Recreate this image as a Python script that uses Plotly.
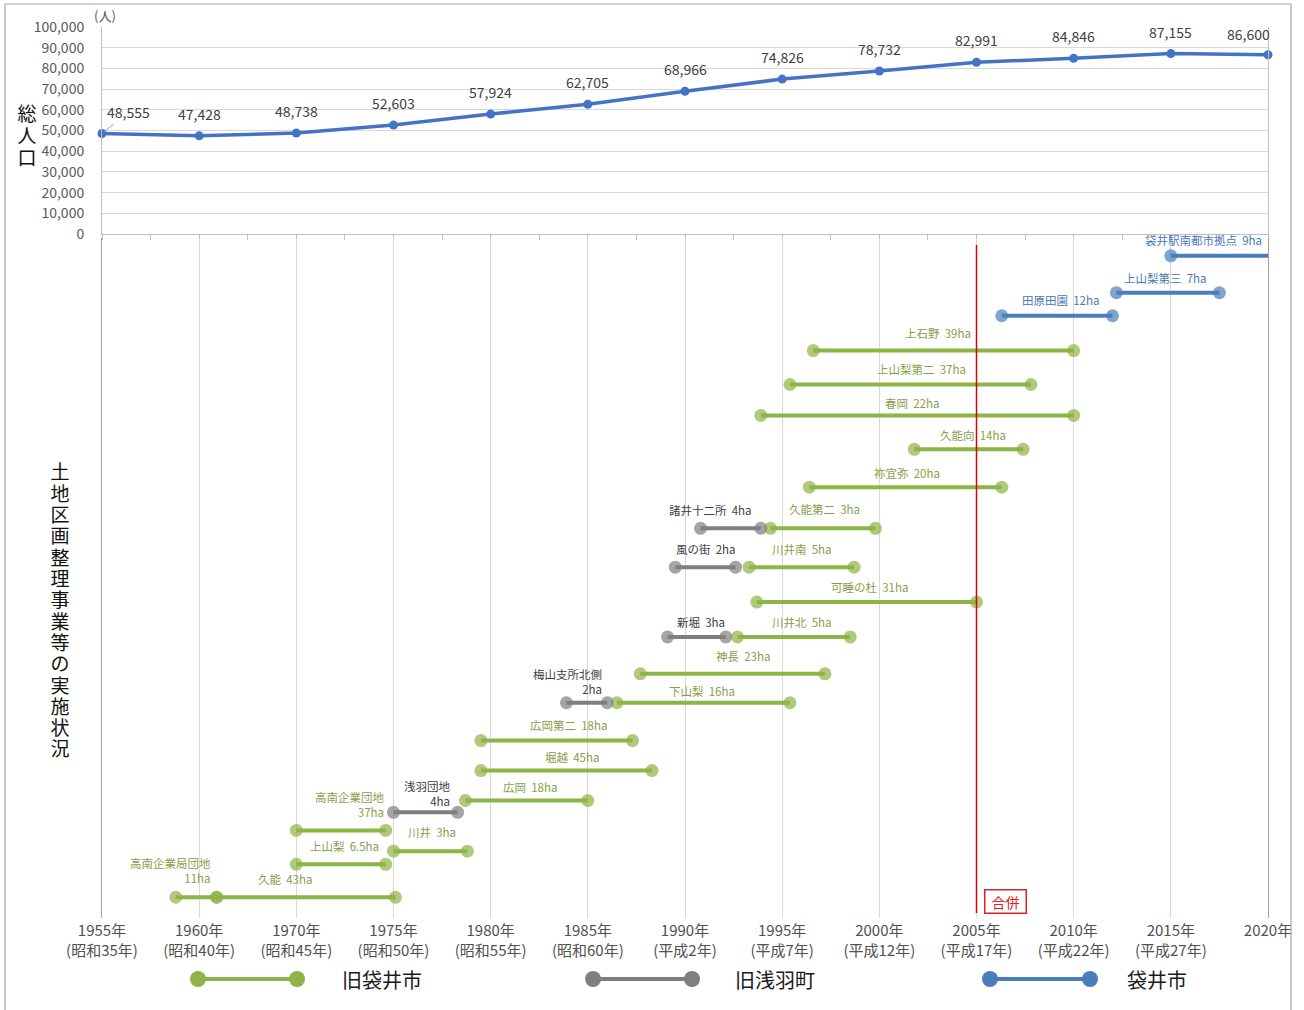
import plotly.graph_objects as go

# ---- Population (census years) ----
pop_years = [1960, 1965, 1970, 1975, 1980, 1985, 1990, 1995, 2000, 2005, 2010, 2015, 2020]
population = [48555, 47428, 48738, 52603, 57924, 62705, 68966, 74826, 78732, 82991, 84846, 87155, 86600]

# x-axis tick labels shown under the project chart
tick_years = pop_years
tick_text = [
    "1955年<br>(昭和35年)", "1960年<br>(昭和40年)", "1970年<br>(昭和45年)", "1975年<br>(昭和50年)",
    "1980年<br>(昭和55年)", "1985年<br>(昭和60年)", "1990年<br>(平成2年)", "1995年<br>(平成7年)",
    "2000年<br>(平成12年)", "2005年<br>(平成17年)", "2010年<br>(平成22年)", "2015年<br>(平成27年)",
    "2020年",
]

# ---- Land readjustment projects ----
proj_name = [
    "袋井駅南都市拠点", "上山梨第三", "田原田園", "上石野", "上山梨第二", "春岡", "久能向", "祢宜弥",
    "諸井十二所", "久能第二", "風の街", "川井南", "可睡の杜", "新堀", "川井北", "神長",
    "梅山支所北側", "下山梨", "広岡第二", "堀越", "広岡", "浅羽団地", "高南企業団地", "川井",
    "上山梨", "高南企業局団地", "久能",
]
proj_area = [
    "9ha", "7ha", "12ha", "39ha", "37ha", "22ha", "14ha", "20ha",
    "4ha", "3ha", "2ha", "5ha", "31ha", "3ha", "5ha", "23ha",
    "2ha", "16ha", "18ha", "45ha", "18ha", "4ha", "37ha", "3ha",
    "6.5ha", "11ha", "43ha",
]
# city: 0 = 旧袋井市, 1 = 旧浅羽町, 2 = 袋井市
proj_city = [2, 2, 2, 0, 0, 0, 0, 0,
             1, 0, 1, 0, 0, 1, 0, 0,
             1, 0, 0, 0, 0, 1, 0, 0,
             0, 0, 0]
proj_start = [2015.0, 2012.2, 2006.3, 1996.6, 1995.4, 1993.9, 2001.8, 1996.4,
              1990.8, 1994.4, 1989.5, 1993.3, 1993.7, 1989.1, 1992.7, 1987.7,
              1983.9, 1986.5, 1979.5, 1979.5, 1978.7, 1975.0, 1970.0, 1975.0,
              1970.0, 1963.8, 1965.9]
proj_end = [2020.0, 2017.5, 2012.0, 2010.0, 2007.8, 2010.0, 2007.4, 2006.3,
            1993.9, 1999.8, 1992.6, 1998.7, 2005.0, 1992.1, 1998.5, 1997.2,
            1986.0, 1995.4, 1987.3, 1988.3, 1985.0, 1978.3, 1974.6, 1978.8,
            1974.6, 1965.9, 1975.1]
proj_ongoing = [True] + [False] * 26

# ---- placement of the project rows and their labels (layout only) ----
row_lane = [0.33, 1.45, 2.15, 3.21, 4.24, 5.18, 6.21, 7.36,
            8.61, 8.61, 9.79, 9.79, 10.85, 11.91, 11.91, 13.03,
            13.91, 13.91, 15.06, 15.97, 16.88, 17.24, 17.79, 18.42,
            18.82, 19.82, 19.82]
label_x = [2016.7, 2014.7, 2009.3, 2003.0, 2002.15, 2001.7, 2004.8, 2001.4,
           1991.3, 1997.2, 1991.1, 1996.0, 1999.5, 1990.8, 1996.0, 1993.0,
           1985.85, 1990.9, 1984.0, 1984.2, 1982.0, 1978.05, 1974.6, 1977.0,
           1972.5, 1965.7, 1969.4]
label_lane = [-0.15, 1.0, 1.67, 2.67, 3.76, 4.79, 5.76, 6.94,
              8.06, 8.03, 9.24, 9.24, 10.39, 11.45, 11.45, 12.48,
              13.27, 13.55, 14.58, 15.55, 16.48, 16.67, 17.0, 17.85,
              18.27, 19.0, 19.27]
label_two_line = {16, 21, 22, 25}

city_names = ["旧袋井市", "旧浅羽町", "袋井市"]
city_line = ["#8db444", "#7f7f7f", "#4a7ebb"]
city_text = ["#86a04a", "#404040", "#4a78b8"]

FONT = "Noto Sans CJK JP"
W, H = 1304, 1010


def py(p):
    """pixel row -> paper y"""
    return 1 - p / H


fig = go.Figure()

# population line
fig.add_trace(go.Scatter(
    x=pop_years, y=population, mode="lines+markers",
    line=dict(color="#4472c4", width=3.5),
    marker=dict(color="#4472c4", size=9, line=dict(width=0)),
    cliponaxis=False, showlegend=False, hoverinfo="x+y",
    xaxis="x", yaxis="y",
))

# project segments, one trace per city
for c in range(3):
    xs, ys, sizes = [], [], []
    for i in range(len(proj_name)):
        if proj_city[i] != c:
            continue
        xs += [proj_start[i], proj_end[i], None]
        ys += [row_lane[i], row_lane[i], None]
        sizes += [13, 0 if proj_ongoing[i] else 13, 0]
    fig.add_trace(go.Scatter(
        x=xs, y=ys, mode="lines+markers",
        line=dict(color=city_line[c], width=4),
        marker=dict(color=city_line[c], size=sizes, line=dict(width=0)),
        cliponaxis=False, showlegend=False, connectgaps=False,
        xaxis="x2", yaxis="y2",
    ))

# legend keys drawn on their own small axis
legend_x0 = [0.1518, 0.4548, 0.7592]
legend_x1 = [0.2278, 0.5307, 0.8359]
legend_lbl = [0.2607, 0.5621, 0.8627]
for c in range(3):
    fig.add_trace(go.Scatter(
        x=[legend_x0[c], legend_x1[c]], y=[0.5, 0.5], mode="lines+markers",
        line=dict(color=city_line[c], width=4),
        marker=dict(color=city_line[c], size=16, line=dict(width=0)),
        cliponaxis=False, showlegend=False, hoverinfo="skip",
        xaxis="x3", yaxis="y3",
    ))

annotations = []

# population value labels
for i, (xv, yv) in enumerate(zip(pop_years, population)):
    txt = f"{yv:,}"
    if i == 0:
        annotations.append(dict(x=xv, y=yv, xref="x", yref="y", text=txt, showarrow=True,
                                 ax=26, ay=-21, arrowhead=0, arrowwidth=1, arrowcolor="#a6a6a6",
                                 standoff=2, font=dict(family=FONT, size=14, color="#404040")))
    elif i == len(pop_years) - 1:
        annotations.append(dict(x=xv, y=yv, xref="x", yref="y", text=txt, showarrow=False,
                                 xanchor="right", xshift=4, yshift=21,
                                 font=dict(family=FONT, size=14, color="#404040")))
    else:
        annotations.append(dict(x=xv, y=yv, xref="x", yref="y", text=txt, showarrow=False,
                                 yshift=22, font=dict(family=FONT, size=14, color="#404040")))

# project labels
for i in range(len(proj_name)):
    c = proj_city[i]
    if i in label_two_line:
        annotations.append(dict(x=label_x[i], y=label_lane[i], xref="x2", yref="y2",
                                 text=f"{proj_name[i]}<br>{proj_area[i]}", showarrow=False,
                                 xanchor="right", yanchor="middle", align="right",
                                 font=dict(family=FONT, size=11.5, color=city_text[c])))
    else:
        annotations.append(dict(x=label_x[i], y=label_lane[i], xref="x2", yref="y2",
                                 text=f"{proj_name[i]}  {proj_area[i]}", showarrow=False,
                                 xanchor="center", yanchor="middle",
                                 font=dict(family=FONT, size=11.5, color=city_text[c])))

# legend labels
for c in range(3):
    annotations.append(dict(x=legend_lbl[c], y=0.5, xref="x3", yref="y3", text=city_names[c],
                             showarrow=False, xanchor="left", yanchor="middle",
                             font=dict(family=FONT, size=20, color="#1a1a1a")))

# merger marker
annotations.append(dict(x=2005, y=19.94, xref="x2", yref="y2", text="合併", showarrow=False,
                         xanchor="left", yanchor="middle", xshift=7, width=38,
                         bordercolor="#e02020", borderwidth=1.5,
                         borderpad=1, bgcolor="white",
                         font=dict(family=FONT, size=14, color="#e02020")))

# unit label
annotations.append(dict(x=105 / W, y=py(15), xref="paper", yref="paper", text="(人)",
                         showarrow=False, xanchor="center", yanchor="middle",
                         font=dict(family=FONT, size=13, color="#595959")))

# vertical axis titles, one character per row (tight boxes so rows do not overlap)
for k, ch in enumerate("総人口"):
    annotations.append(dict(x=27 / W, y=py(113 + k * 21.5), xref="paper", yref="paper", text=ch,
                             showarrow=False, xanchor="center", yanchor="middle",
                             height=21, width=20,
                             font=dict(family=FONT, size=19, color="#111111")))
for k, ch in enumerate("土地区画整理事業等の実施状況"):
    annotations.append(dict(x=60 / W, y=py(471 + k * 21.3), xref="paper", yref="paper", text=ch,
                             showarrow=False, xanchor="center", yanchor="middle",
                             height=21, width=20,
                             font=dict(family=FONT, size=19, color="#111111")))

shapes = [
    # merger year line
    dict(type="line", xref="x2", yref="y2", x0=2005, x1=2005, y0=0.0, y1=20.3,
         line=dict(color="#e00000", width=1.5)),
    # outer frame
    dict(type="rect", xref="paper", yref="paper", x0=5 / W, x1=1291 / W, y0=-0.02, y1=py(4),
         line=dict(color="#a6a6a6", width=1.2), fillcolor="rgba(0,0,0,0)"),
]

x_dom = [102 / W, 1268 / W]

fig.update_layout(
    width=W, height=H,
    margin=dict(l=0, r=0, t=0, b=0, autoexpand=False),
    paper_bgcolor="white", plot_bgcolor="white",
    font=dict(family=FONT, color="#404040"),
    showlegend=False,
    annotations=annotations,
    shapes=shapes,
    xaxis=dict(domain=x_dom, range=[1960, 2020], anchor="y", automargin=False,
               showgrid=False, zeroline=False, showticklabels=False,
               ticks="outside", ticklen=5, tickcolor="#bfbfbf", tick0=1960, dtick=2.5,
               showline=True, linecolor="#bfbfbf", linewidth=1),
    yaxis=dict(domain=[py(234), py(27)], range=[0, 100000], anchor="x", automargin=False,
               tickvals=list(range(0, 100001, 10000)),
               ticktext=[f"{v:,}" for v in range(0, 100001, 10000)],
               tickfont=dict(family=FONT, size=14, color="#595959"),
               ticklabelstandoff=14,
               showgrid=True, gridcolor="#d9d9d9", gridwidth=1, zeroline=False,
               showline=True, mirror=True, linecolor="#bfbfbf", linewidth=1),
    xaxis2=dict(domain=x_dom, range=[1960, 2020], anchor="y2", automargin=False,
                tickvals=tick_years, ticktext=tick_text,
                tickfont=dict(family=FONT, size=15, color="#505050"),
                ticklabelstandoff=2,
                showgrid=True, gridcolor="#d9d9d9", gridwidth=1, zeroline=False,
                showline=False, ticks=""),
    yaxis2=dict(domain=[py(918), py(238)], range=[20.45, -0.212], anchor="x2", automargin=False,
                showticklabels=False, showgrid=False, zeroline=False,
                showline=True, mirror=True, linecolor="#a0a0a0", linewidth=1.2),
    xaxis3=dict(domain=[0, 1], range=[0, 1], anchor="y3", visible=False, automargin=False),
    yaxis3=dict(domain=[py(993), py(965)], range=[0, 1], anchor="x3", visible=False,
                automargin=False),
)

fig.write_html("out.html")
